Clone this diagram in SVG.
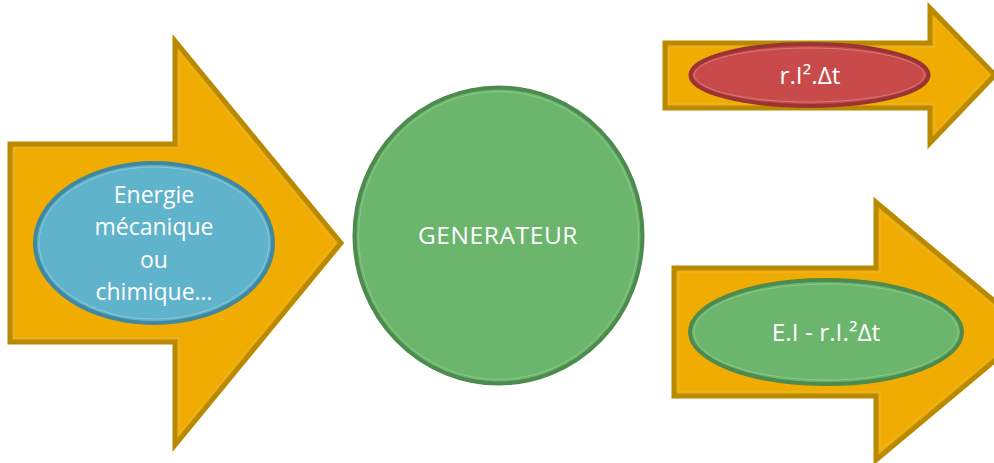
<svg xmlns="http://www.w3.org/2000/svg" width="994" height="463" viewBox="0 0 994 463">
  <style>
    .arrow { fill: #F0AC00; stroke: #B98A00; stroke-width: 5; stroke-linejoin: miter; }
    .arrow-in { fill: none; stroke: #E8B640; stroke-width: 1; }
    .lbl { font-family: "Open Sans", "Noto Sans", sans-serif; font-size: 23px; fill: #FFFFFF; text-anchor: middle; }
    .lbl-big { font-size: 24.5px; }
    .blue { fill: #5FB3CB; stroke: #40889F; stroke-width: 4; }
    .green { fill: #6BB56D; stroke: #4C8A4E; stroke-width: 4; }
    .red { fill: #C84A4A; stroke: #9A3434; stroke-width: 4; }
    .ring-blue { fill: none; stroke: #8CC6D6; stroke-width: 1; }
    .ring-green { fill: none; stroke: #8DC78E; stroke-width: 1; }
    .ring-red { fill: none; stroke: #D97A7A; stroke-width: 1; }
  </style>

  <!-- incoming energy arrow with its label -->
  <g id="energie-entree">
    <path class="arrow" d="M 10 144 L 175 144 L 175 41 L 341 243 L 175 445 L 175 342 L 10 342 Z"/>
    <path class="arrow-in" d="M 14 148 L 179 148 L 179 52 L 335 243 L 179 434 L 179 338 L 14 338 Z"/>
    <ellipse class="blue" cx="154" cy="243" rx="119" ry="80"/>
    <ellipse class="ring-blue" cx="154" cy="243" rx="115" ry="76"/>
    <text class="lbl" x="154" y="203">Energie</text>
    <text class="lbl" x="154" y="235">mécanique</text>
    <text class="lbl" x="154" y="268">ou</text>
    <text class="lbl" x="154" y="300">chimique…</text>
  </g>

  <!-- generator -->
  <g id="generateur">
    <ellipse class="green" cx="498.5" cy="235.5" rx="144" ry="148"/>
    <ellipse class="ring-green" cx="498.5" cy="235.5" rx="140" ry="144"/>
    <text class="lbl lbl-big" x="498" y="244" letter-spacing="0.6">GENERATEUR</text>
  </g>

  <!-- Joule losses -->
  <g id="pertes-joule">
    <path class="arrow" d="M 665 43 L 930 43 L 930 8 L 995 75 L 930 143 L 930 108 L 665 108 Z"/>
    <path class="arrow-in" d="M 669 47 L 934 47 L 934 18 L 989 75 L 934 133 L 934 104 L 669 104 Z"/>
    <ellipse class="red" cx="809.5" cy="75" rx="119" ry="31"/>
    <ellipse class="ring-red" cx="809.5" cy="75" rx="115" ry="27"/>
    <text class="lbl lbl-big" x="810" y="84">r.I².Δt</text>
  </g>

  <!-- useful electrical energy -->
  <g id="energie-utile">
    <path class="arrow" d="M 674 268 L 876 268 L 876 202 L 1030 331 L 876 460 L 876 396 L 674 396 Z"/>
    <path class="arrow-in" d="M 678 272 L 880 272 L 880 212 L 1024 331 L 880 450 L 880 392 L 678 392 Z"/>
    <ellipse class="green" cx="826" cy="332" rx="136" ry="52"/>
    <ellipse class="ring-green" cx="826" cy="332" rx="132" ry="48"/>
    <text class="lbl lbl-big" x="826" y="341">E.I - r.I.²Δt</text>
  </g>

  <g id="connecteurs"/>
</svg>
